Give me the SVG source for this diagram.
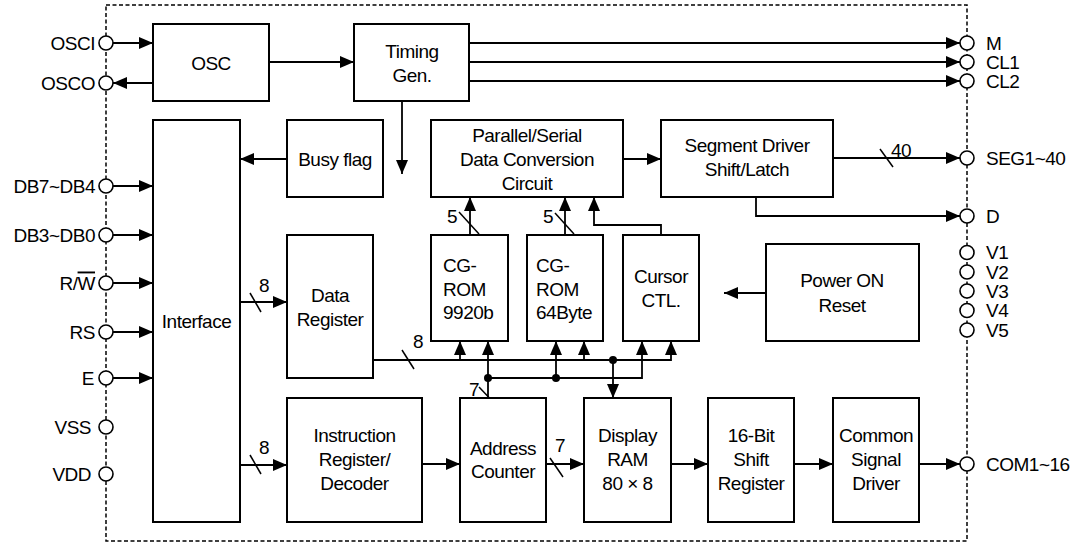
<svg xmlns="http://www.w3.org/2000/svg" width="1077" height="544" viewBox="0 0 1077 544">
<defs>
<marker id="ah" markerUnits="userSpaceOnUse" markerWidth="14" markerHeight="12" refX="14" refY="6" orient="auto">
<path d="M0,0 L14,6 L0,12 z" fill="#000"/>
</marker>
<style>
text{font-family:"Liberation Sans",Arial,sans-serif;font-size:19px;letter-spacing:-0.5px;fill:#000}
.c{text-anchor:middle}
.r{text-anchor:end}
.box{fill:#fff;stroke:#000;stroke-width:2}
.ln{fill:none;stroke:#000;stroke-width:1.8}
.ar{fill:none;stroke:#000;stroke-width:1.8;marker-end:url(#ah)}
.sl{stroke:#000;stroke-width:1.5}
.pin{fill:#fff;stroke:#000;stroke-width:1.6}
.dot{fill:#000}
.border{fill:none;stroke:#000;stroke-width:1.5;stroke-dasharray:4 2.5}
</style>
</defs>
<rect class="border" x="106" y="5" width="861" height="536"/>

<g id="connectors">
<line class="ar" x1="113" y1="43" x2="153" y2="43"/>
<line class="ar" x1="153" y1="83" x2="113" y2="83"/>
<line class="ar" x1="113" y1="186" x2="153" y2="186"/>
<line class="ar" x1="113" y1="235" x2="153" y2="235"/>
<line class="ar" x1="113" y1="283" x2="153" y2="283"/>
<line class="ar" x1="113" y1="332" x2="153" y2="332"/>
<line class="ar" x1="113" y1="378" x2="153" y2="378"/>
<line class="ar" x1="269" y1="62" x2="354" y2="62"/>
<line class="ar" x1="469" y1="43" x2="960" y2="43"/>
<line class="ar" x1="469" y1="62" x2="960" y2="62"/>
<line class="ar" x1="469" y1="81" x2="960" y2="81"/>
<line class="ar" x1="402" y1="101" x2="402" y2="174"/>
<line class="ar" x1="287" y1="159" x2="240" y2="159"/>
<line class="ar" x1="623" y1="159" x2="661" y2="159"/>
<line class="ar" x1="833" y1="158" x2="960" y2="158"/>
<line class="sl" x1="880" y1="149" x2="893" y2="167"/>
<text class="c" x="901" y="157">40</text>
<path class="ar" d="M756,197 V216 H960"/>
<line class="ar" x1="766" y1="293" x2="724" y2="293"/>
<line class="ar" x1="470" y1="235" x2="470" y2="197"/>
<line class="sl" x1="459" y1="212" x2="479" y2="234"/>
<text class="c" x="452" y="223">5</text>
<line class="ar" x1="565" y1="235" x2="565" y2="197"/>
<line class="sl" x1="555" y1="213" x2="574" y2="234"/>
<text class="c" x="548" y="223">5</text>
<path class="ar" d="M661,235 V225 H594 V197"/>
<line class="ar" x1="240" y1="302" x2="287" y2="302"/>
<line class="sl" x1="250" y1="293" x2="261" y2="312"/>
<text class="c" x="264" y="292">8</text>
<line class="ar" x1="240" y1="465" x2="287" y2="465"/>
<line class="sl" x1="250" y1="455" x2="261" y2="474"/>
<text class="c" x="264" y="454">8</text>
<line class="ln" x1="373" y1="360" x2="671" y2="360"/>
<line class="ar" x1="460" y1="360" x2="460" y2="341"/>
<line class="ar" x1="584" y1="360" x2="584" y2="341"/>
<line class="ar" x1="671" y1="361" x2="671" y2="341"/>
<line class="sl" x1="402" y1="350" x2="414" y2="369"/>
<text class="c" x="418" y="348">8</text>
<line class="ar" x1="613" y1="360" x2="613" y2="398"/>
<circle class="dot" cx="613" cy="360" r="4"/>
<line class="ar" x1="488" y1="398" x2="488" y2="341"/>
<line class="ln" x1="488" y1="378" x2="642" y2="378"/>
<line class="ar" x1="556" y1="378" x2="556" y2="341"/>
<line class="ar" x1="642" y1="379" x2="642" y2="341"/>
<circle class="dot" cx="488" cy="378" r="4"/>
<circle class="dot" cx="556" cy="378" r="4"/>
<line class="sl" x1="479" y1="387" x2="498" y2="407"/>
<text class="c" x="474" y="396">7</text>
<line class="ar" x1="422" y1="464" x2="460" y2="464"/>
<line class="ar" x1="546" y1="464" x2="584" y2="464"/>
<line class="sl" x1="550" y1="458" x2="563" y2="477"/>
<text class="c" x="560" y="452">7</text>
<line class="ar" x1="671" y1="464" x2="708" y2="464"/>
<line class="ar" x1="794" y1="464" x2="833" y2="464"/>
<line class="ar" x1="919" y1="464" x2="960" y2="464"/>
</g>

<g id="osc"><rect class="box" x="153" y="24" width="116" height="77"/><text class="c" x="211" y="70">OSC</text></g>
<g id="timing"><rect class="box" x="354" y="24" width="115" height="77"/><text class="c" x="412" y="58">Timing</text><text class="c" x="412" y="82">Gen.</text></g>
<g id="busy"><rect class="box" x="287" y="120" width="96" height="77"/><text class="c" x="335" y="166">Busy flag</text></g>
<g id="interface"><rect class="box" x="153" y="120" width="87" height="402"/><text class="c" x="196.5" y="328">Interface</text></g>
<g id="ps"><rect class="box" x="431" y="120" width="192" height="77"/><text class="c" x="527" y="142">Parallel/Serial</text><text class="c" x="527" y="166">Data Conversion</text><text class="c" x="527" y="190">Circuit</text></g>
<g id="seg"><rect class="box" x="661" y="120" width="172" height="77"/><text class="c" x="747" y="152">Segment Driver</text><text class="c" x="747" y="176">Shift/Latch</text></g>
<g id="cgrom1"><rect class="box" x="431" y="235" width="77" height="106"/><text x="443" y="272">CG-</text><text x="443" y="296">ROM</text><text x="443" y="319">9920b</text></g>
<g id="cgrom2"><rect class="box" x="527" y="235" width="76" height="106"/><text x="536" y="272">CG-</text><text x="536" y="296">ROM</text><text x="536" y="319">64Byte</text></g>
<g id="cursor"><rect class="box" x="623" y="235" width="76" height="106"/><text class="c" x="661" y="283">Cursor</text><text class="c" x="661" y="307">CTL.</text></g>
<g id="power"><rect class="box" x="766" y="244" width="153" height="97"/><text class="c" x="842" y="287">Power ON</text><text class="c" x="842" y="312">Reset</text></g>
<g id="datareg"><rect class="box" x="287" y="235" width="86" height="143"/><text class="c" x="330" y="302">Data</text><text class="c" x="330" y="326">Register</text></g>
<g id="instr"><rect class="box" x="287" y="398" width="135" height="124"/><text class="c" x="354.5" y="442">Instruction</text><text class="c" x="354.5" y="466">Register/</text><text class="c" x="354.5" y="490">Decoder</text></g>
<g id="addr"><rect class="box" x="460" y="398" width="86" height="124"/><text class="c" x="503" y="455">Address</text><text class="c" x="503" y="478">Counter</text></g>
<g id="ram"><rect class="box" x="584" y="398" width="87" height="124"/><text class="c" x="627.5" y="442">Display</text><text class="c" x="627.5" y="466">RAM</text><text class="c" x="627.5" y="490">80 × 8</text></g>
<g id="shift16"><rect class="box" x="708" y="398" width="86" height="124"/><text class="c" x="751" y="442">16-Bit</text><text class="c" x="751" y="466">Shift</text><text class="c" x="751" y="490">Register</text></g>
<g id="common"><rect class="box" x="833" y="398" width="86" height="124"/><text class="c" x="876" y="442">Common</text><text class="c" x="876" y="466">Signal</text><text class="c" x="876" y="490">Driver</text></g>

<g id="pins-left">
<circle class="pin" cx="106" cy="43" r="7"/><text class="r" x="95" y="49.5">OSCI</text>
<circle class="pin" cx="106" cy="83" r="7"/><text class="r" x="95" y="89.5">OSCO</text>
<circle class="pin" cx="106" cy="186" r="7"/><text class="r" x="95" y="192.5">DB7~DB4</text>
<circle class="pin" cx="106" cy="235" r="7"/><text class="r" x="95" y="241.5">DB3~DB0</text>
<circle class="pin" cx="106" cy="283" r="7"/><text class="r" x="95" y="289.5">R/<tspan style="text-decoration:overline">W</tspan></text>
<circle class="pin" cx="106" cy="332" r="7"/><text class="r" x="95" y="338.5">RS</text>
<circle class="pin" cx="106" cy="378" r="7"/><text class="r" x="94" y="384.5">E</text>
<circle class="pin" cx="106" cy="427" r="7"/><text class="r" x="91" y="433.5">VSS</text>
<circle class="pin" cx="106" cy="474" r="7"/><text class="r" x="91" y="480.5">VDD</text>
</g>
<g id="pins-right">
<circle class="pin" cx="967" cy="43" r="7"/><text x="986" y="49.5">M</text>
<circle class="pin" cx="967" cy="62" r="7"/><text x="986" y="68.5">CL1</text>
<circle class="pin" cx="967" cy="81" r="7"/><text x="986" y="87.5">CL2</text>
<circle class="pin" cx="967" cy="158" r="7"/><text x="986" y="164.5">SEG1~40</text>
<circle class="pin" cx="967" cy="216" r="7"/><text x="986" y="222.5">D</text>
<circle class="pin" cx="967" cy="252.5" r="7"/><text x="986" y="259">V1</text>
<circle class="pin" cx="967" cy="272" r="7"/><text x="986" y="278.5">V2</text>
<circle class="pin" cx="967" cy="291" r="7"/><text x="986" y="297.5">V3</text>
<circle class="pin" cx="967" cy="310.5" r="7"/><text x="986" y="317">V4</text>
<circle class="pin" cx="967" cy="330" r="7"/><text x="986" y="336.5">V5</text>
<circle class="pin" cx="967" cy="464" r="7"/><text x="986" y="470.5">COM1~16</text>
</g>
</svg>
